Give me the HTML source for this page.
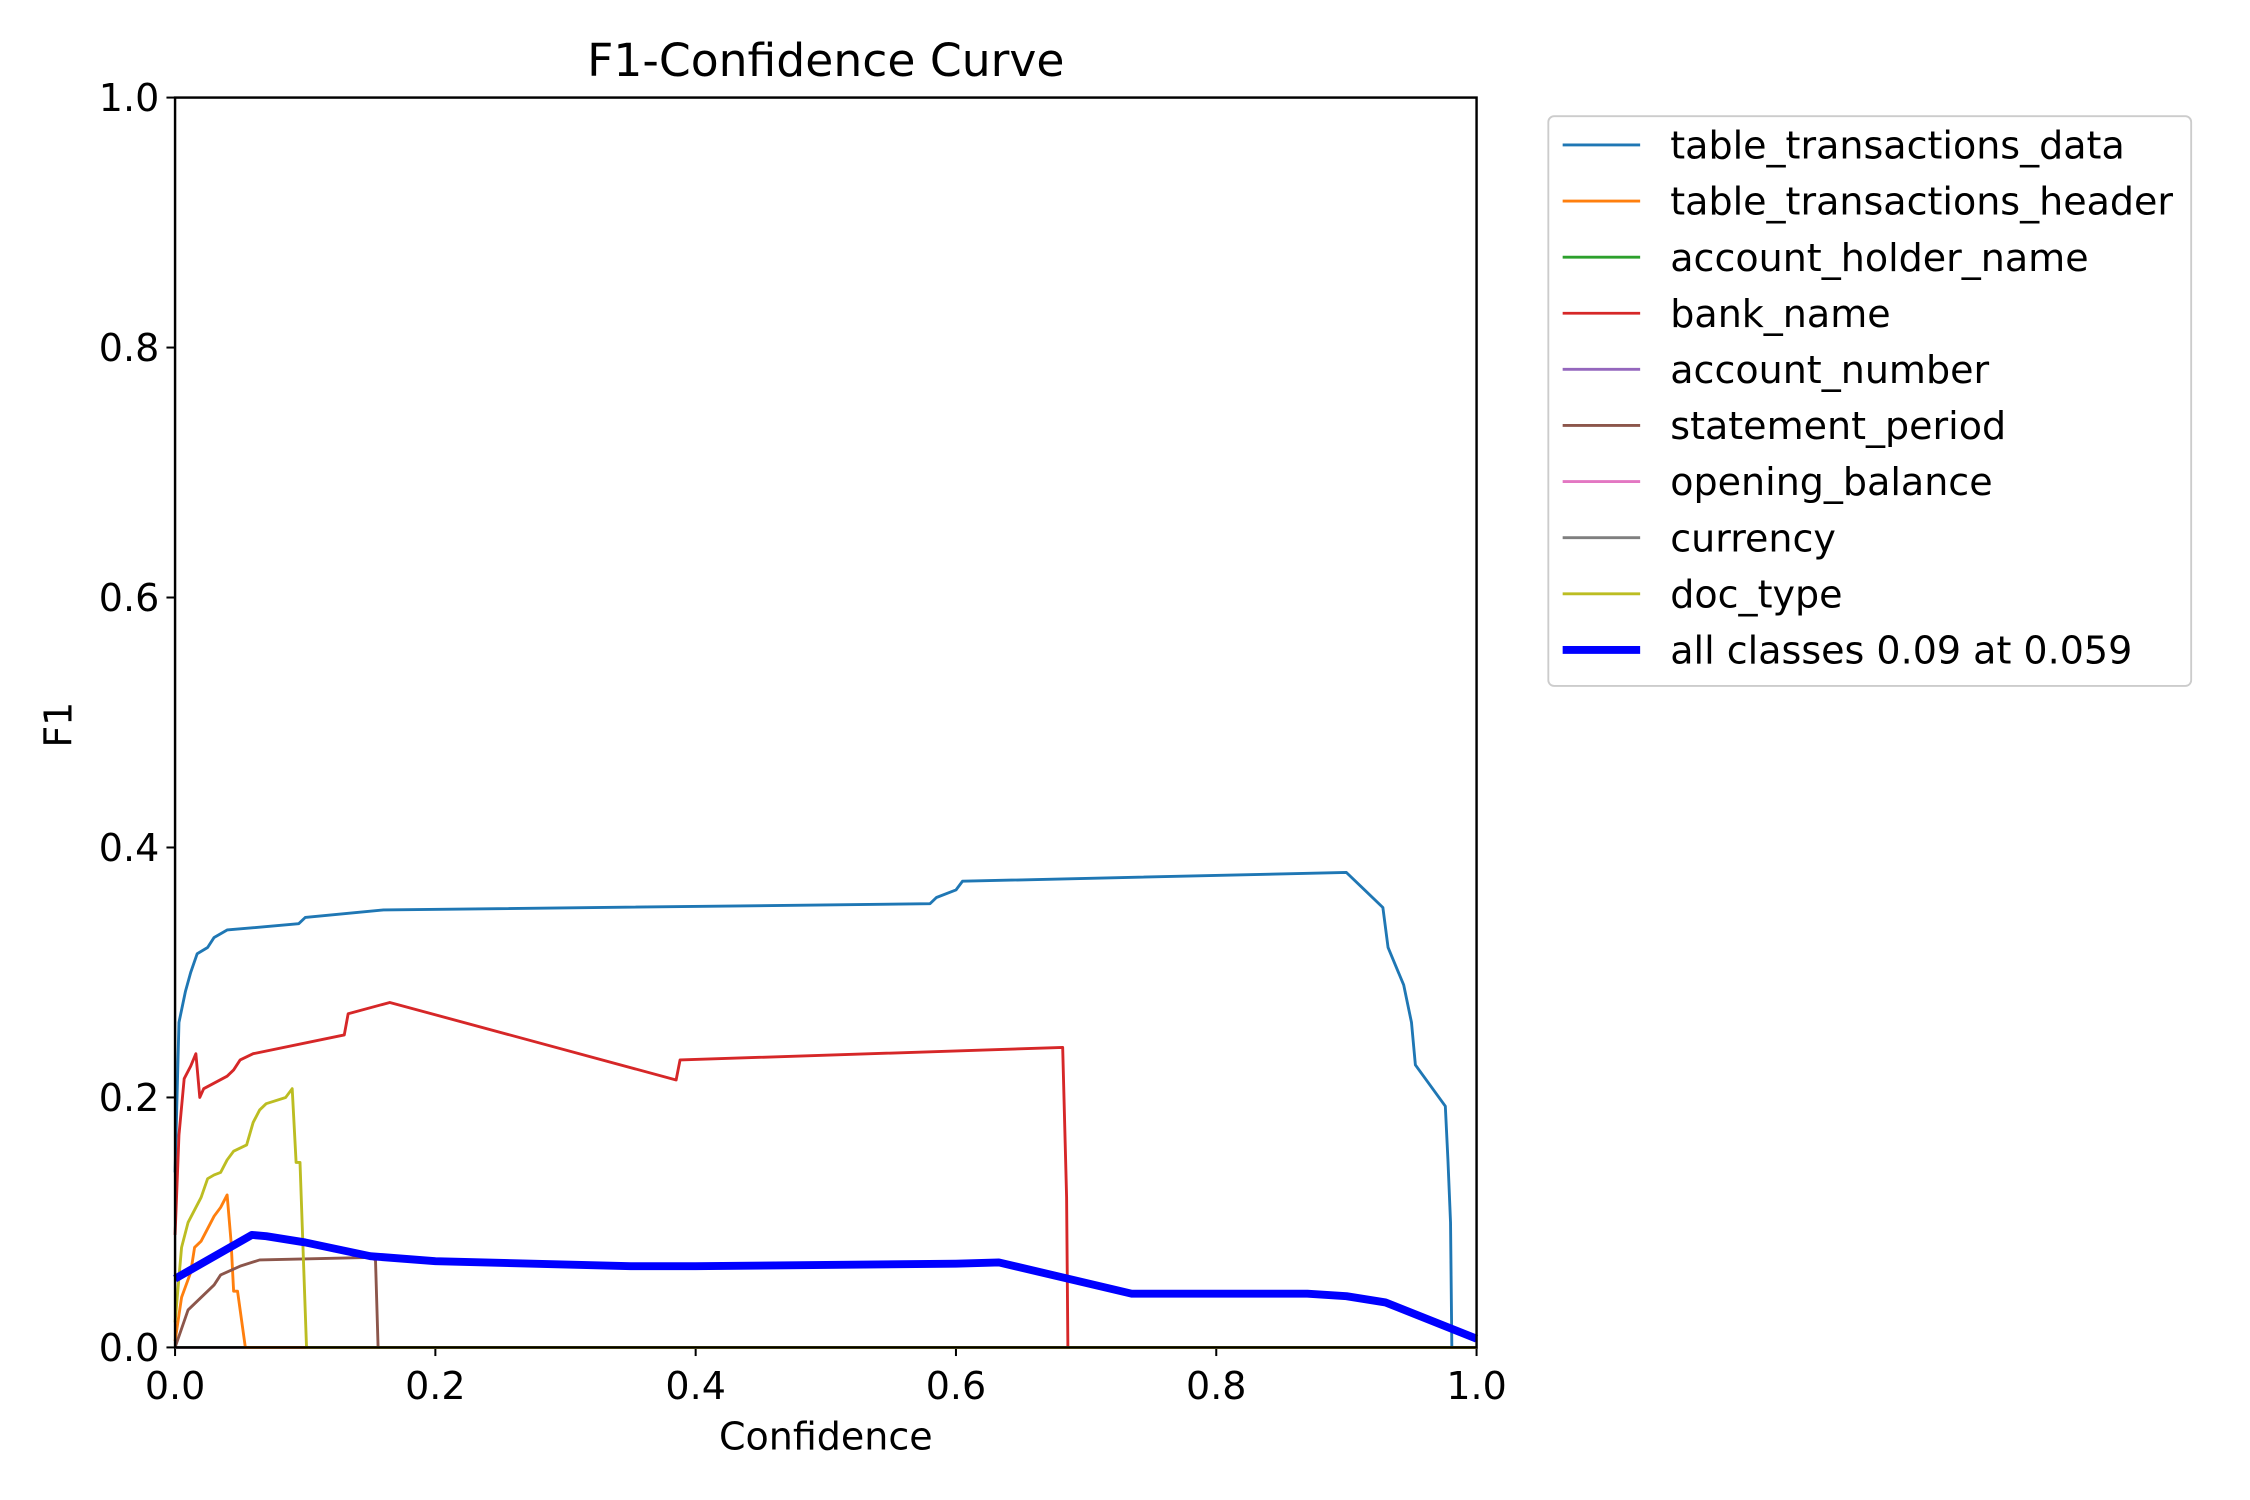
<!DOCTYPE html>
<html><head><meta charset="utf-8"><style>
html,body{margin:0;padding:0;background:#fff;}
svg{display:block;font-family:"DejaVu Sans","Liberation Sans",sans-serif;}
</style></head><body>
<svg id="chart" width="2250" height="1500" viewBox="0 0 1568 1045.33" xmlns="http://www.w3.org/2000/svg">
<rect width="1568" height="1046" fill="#fff"/>
<text x="575.5" y="53" font-size="31.8" text-anchor="middle">F1-Confidence Curve</text>
<text x="575.5" y="1010" font-size="26.5" text-anchor="middle">Confidence</text>
<text transform="translate(50,505) rotate(-90)" font-size="26.5" text-anchor="middle">F1</text>
<g id="ticks"></g>
<g id="series" clip-path="url(#clip)"></g>
<defs><clipPath id="clip"><rect x="119" y="60" width="915" height="882"/></clipPath></defs>
<rect x="122" y="68" width="907" height="871" fill="none" stroke="#000" stroke-width="1.7"/>
<g id="legend"></g>
</svg>
<script>
const xTicks=[0,0.2,0.4,0.6,0.8,1.0];
const yTicks=[0,0.2,0.4,0.6,0.8,1.0];
const tickLabels=["0.0","0.2","0.4","0.6","0.8","1.0"];
const classNames=["table_transactions_data","table_transactions_header","account_holder_name","bank_name","account_number","statement_period","opening_balance","currency","doc_type","all classes 0.09 at 0.059"];
const classColors=["#1f77b4","#ff7f0e","#2ca02c","#d62728","#9467bd","#8c564b","#e377c2","#7f7f7f","#bcbd22","#0000ff"];
const dataX=[0,0.003,0.008,0.012,0.017,0.025,0.03,0.04,0.095,0.1,0.16,0.58,0.585,0.6,0.605,0.9,0.928,0.932,0.944,0.95,0.953,0.976,0.978,0.98,0.981,1.0];
const dataY=[0.14,0.26,0.285,0.30,0.315,0.32,0.328,0.334,0.339,0.344,0.35,0.355,0.36,0.366,0.373,0.38,0.352,0.32,0.29,0.26,0.226,0.193,0.15,0.10,0.0,0.0];
const headerX=[0,0.005,0.012,0.015,0.02,0.025,0.03,0.035,0.04,0.043,0.045,0.048,0.054,1];
const headerY=[0.005,0.04,0.06,0.08,0.085,0.095,0.105,0.112,0.122,0.085,0.045,0.045,0,0];
const bankX=[0,0.003,0.007,0.012,0.016,0.019,0.022,0.04,0.045,0.05,0.06,0.13,0.133,0.165,0.385,0.388,0.682,0.685,0.686,1];
const bankY=[0.09,0.17,0.215,0.225,0.235,0.2,0.207,0.217,0.222,0.23,0.235,0.25,0.267,0.276,0.214,0.23,0.24,0.12,0,0];
const periodX=[0,0.01,0.02,0.03,0.035,0.05,0.065,0.15,0.154,0.156,1];
const periodY=[0,0.03,0.04,0.05,0.058,0.065,0.07,0.072,0.07,0,0];
const docX=[0,0.005,0.01,0.015,0.02,0.025,0.03,0.035,0.04,0.045,0.055,0.06,0.065,0.07,0.085,0.09,0.093,0.096,0.101,1];
const docY=[0.02,0.08,0.1,0.11,0.12,0.135,0.138,0.14,0.15,0.157,0.162,0.18,0.19,0.195,0.2,0.207,0.148,0.148,0,0];
const zeroX=[0,1];
const zeroY=[0,0];
const allX=[0,0.059,0.07,0.1,0.15,0.2,0.35,0.4,0.6,0.633,0.735,0.87,0.9,0.93,1.0];
const allY=[0.055,0.09,0.089,0.084,0.073,0.069,0.065,0.065,0.067,0.068,0.043,0.043,0.041,0.036,0.007];

const NS="http://www.w3.org/2000/svg";
const sx=v=>122+v*907, sy=v=>939-v*871;
function mk(tag,attrs,parent){const e=document.createElementNS(NS,tag);for(const k in attrs)e.setAttribute(k,attrs[k]);parent.appendChild(e);return e;}
const ticks=document.getElementById('ticks');
xTicks.forEach((t,i)=>{
  const l=mk('line',{x1:sx(t),x2:sx(t),y1:939,y2:945,stroke:'#000','stroke-width':1.4},ticks);
  
  
  const tx=mk('text',{x:sx(t),y:975,'font-size':26.5,'text-anchor':'middle'},ticks);
  tx.textContent=tickLabels[i];
  
  
});
yTicks.forEach((t,i)=>{
  const l=mk('line',{x1:116,x2:122,y1:sy(t),y2:sy(t),stroke:'#000','stroke-width':1.4},ticks);
  
  
  const tx=mk('text',{x:111,y:sy(t)+9.5,'font-size':26.5,'text-anchor':'end'},ticks);
  tx.textContent=tickLabels[i];
  
  
});
const seriesX=[dataX,headerX,zeroX,bankX,zeroX,periodX,zeroX,zeroX,docX,allX];
const seriesY=[dataY,headerY,zeroY,bankY,zeroY,periodY,zeroY,zeroY,docY,allY];
const sg=document.getElementById('series');
const order=[2,4,6,7,0,1,3,5,8,9];
order.forEach(k=>{
  const xs=seriesX[k], ys=seriesY[k];
  const d=xs.map((x,i)=>(i?'L':'M')+sx(x).toFixed(2)+','+sy(ys[i]).toFixed(2)).join(' ');
  const p=mk('path',{d:d,fill:'none',stroke:classColors[k],'stroke-width':k===9?5.5:2,'stroke-linejoin':'round'},sg);
  
  
});
const lg=document.getElementById('legend');
const box=mk('rect',{x:1079,y:81,width:448,height:397,rx:4,fill:'#fff',stroke:'#ccc','stroke-width':1.3},lg);


classNames.forEach((n,i)=>{
  const y=101+i*39.1;
  const l=mk('line',{x1:1089,x2:1143,y1:y,y2:y,stroke:classColors[i],'stroke-width':i===9?5.5:2},lg);
  
  
  const t=mk('text',{x:1164,y:y+9.5,'font-size':26.5},lg);
  t.textContent=n;
  
  
});
</script>
</body></html>
